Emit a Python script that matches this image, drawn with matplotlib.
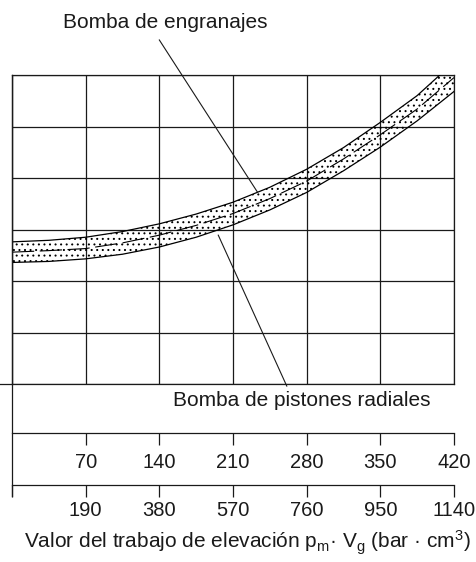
import matplotlib
matplotlib.use('Agg')
import matplotlib.pyplot as plt
from matplotlib.lines import Line2D

plt.rcParams['font.family'] = ['Liberation Sans', 'DejaVu Sans']
plt.rcParams['mathtext.fontset'] = 'custom'
plt.rcParams['mathtext.rm'] = 'Liberation Sans'
plt.rcParams['mathtext.it'] = 'Liberation Sans'
plt.rcParams['hatch.linewidth'] = 0.7

# band limits in grid units (one column = 70 bar*cm3 on the upper scale)
x_pts = [0, 0.5, 1, 1.5, 2, 2.5, 3, 3.5, 4, 4.5, 5, 5.5, 6]
upper = [2.76, 2.79, 2.85, 2.96, 3.11, 3.30, 3.53, 3.82, 4.17, 4.59, 5.08, 5.60, 6.25]
lower = [2.36, 2.38, 2.43, 2.52, 2.66, 2.85, 3.09, 3.38, 3.72, 4.14, 4.60, 5.11, 5.68]
middle = [2.56, 2.59, 2.63, 2.74, 2.89, 3.08, 3.31, 3.60, 3.94, 4.37, 4.84, 5.34, 5.95]

scale_top = [70, 140, 210, 280, 350, 420]
scale_bottom = [190, 380, 570, 760, 950, 1140]

W, H = 477, 562
INK = '#1a1a1a'
LW = 0.9


def fx(px):
    return px / W


def fy(py):
    return 1 - py / H


fig = plt.figure(figsize=(W / 100, H / 100), dpi=100)

# main grid
ax = fig.add_axes([fx(12), fy(384), fx(454) - fx(12), fy(75) - fy(384)])
ax.set_xlim(0, 6)
ax.set_ylim(0, 6)
ax.set_xticks(range(7))
ax.set_yticks(range(7))
ax.tick_params(length=0, labelbottom=False, labelleft=False)
ax.grid(color=INK, lw=LW)
for s in ax.spines.values():
    s.set_color(INK)
    s.set_linewidth(LW)

ax.fill_between(x_pts, lower, upper, facecolor='none', edgecolor='black',
                hatch='...', lw=0, zorder=3)
ax.plot(x_pts, upper, color='black', lw=LW, zorder=4)
ax.plot(x_pts, lower, color='black', lw=LW, zorder=4)
ax.plot(x_pts, middle, color='black', lw=0.8, dashes=(20, 5), zorder=4)

# leader lines and labels
ax.plot([2.0, 3.33], [6.68, 3.73], color=INK, lw=0.8, clip_on=False, zorder=5)
ax.plot([2.80, 3.73], [2.89, -0.04], color=INK, lw=0.8, clip_on=False, zorder=5)
ax.text(2.08, 7.01, 'Bomba de engranajes', ha='center', va='center',
        fontsize=15, color=INK)
ax.text(3.94, -0.33, 'Bomba de pistones radiales', ha='center', va='center',
        fontsize=15, color=INK)

# frame pieces outside the grid
fig.add_artist(Line2D([fx(12), fx(12)], [fy(75), fy(496)], color=INK, lw=LW))
fig.add_artist(Line2D([fx(0), fx(12)], [fy(384), fy(384)], color=INK, lw=LW))


def scale_axis(py, vmax, ticks, labels, pad):
    sa = fig.add_axes([fx(12), fy(py), fx(454) - fx(12), 0.0001])
    for side in ('left', 'right', 'top'):
        sa.spines[side].set_visible(False)
    sa.spines['bottom'].set_color(INK)
    sa.spines['bottom'].set_linewidth(LW)
    sa.set_xlim(0, vmax)
    sa.set_yticks([])
    sa.set_xticks(ticks)
    sa.set_xticklabels(labels)
    sa.tick_params(axis='x', direction='out', length=8.6, width=LW,
                   color=INK, labelcolor=INK, labelsize=14.5, pad=pad)
    sa.patch.set_visible(False)
    return sa


scale_axis(433, 420, scale_top, [str(v) for v in scale_top], 6)
scale_axis(485, 1140, [0] + scale_bottom, [''] + [str(v) for v in scale_bottom], 3)

fig.text(fx(247), fy(543),
         r'Valor del trabajo de elevación $\mathrm{p_m}$· $\mathrm{V_g}$ (bar · cm$^\mathrm{3}$)',
         ha='center', va='center', fontsize=15, color=INK)

fig.savefig('out.png', dpi=100)
